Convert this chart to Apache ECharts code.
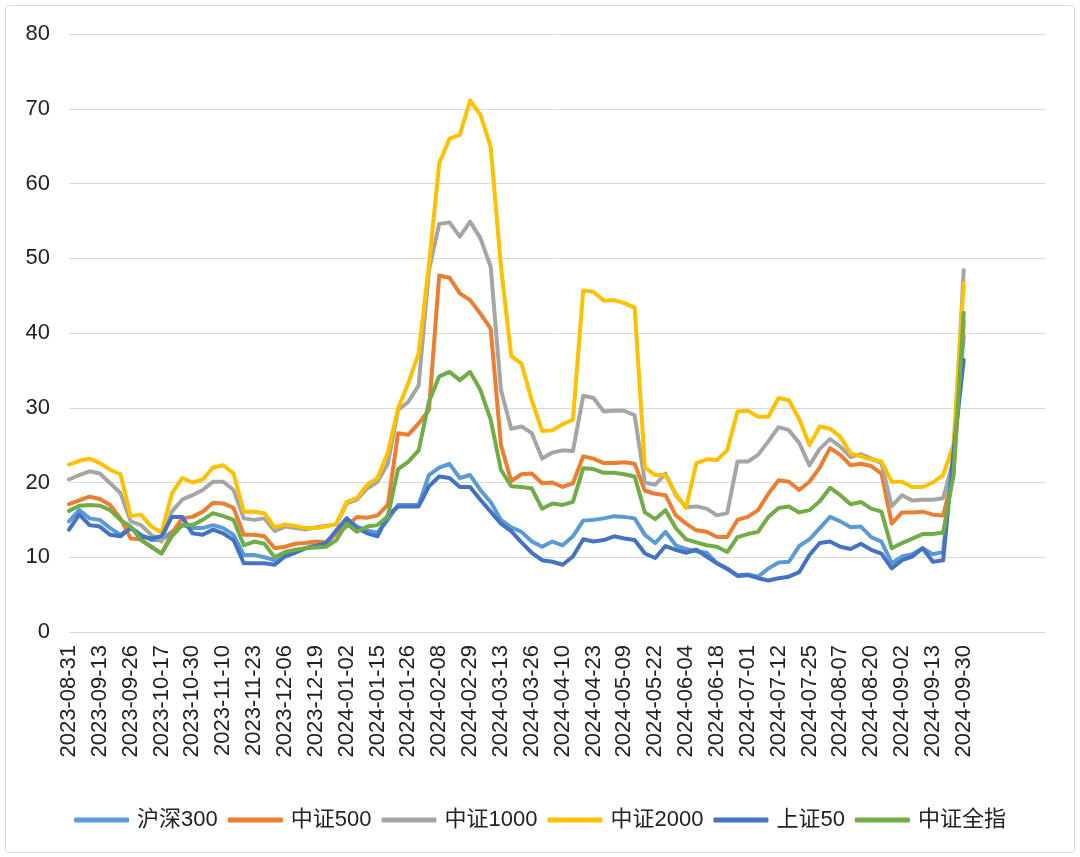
<!DOCTYPE html>
<html>
<head>
<meta charset="utf-8">
<script src="https://cdn.jsdelivr.net/npm/echarts@6/dist/echarts.min.js"></script>
<style>
  html, body { margin: 0; padding: 0; background: #fff; }
  #chart { width: 1080px; height: 857px; }
  #frame { position: absolute; left: 5px; top: 5px; width: 1068px; height: 846px;
           border: 1px solid #d9d9d9; border-radius: 4px; pointer-events: none; }
</style>
</head>
<body>
<div id="chart"></div>
<div id="frame"></div>
<script>
// trading calendar (SSE), sampled every 3rd trading day
const firstDay = '2023-08-31'
const lastDay = '2024-09-30'
const holidays = [
  '2023-09-29', '2023-10-02', '2023-10-03', '2023-10-04', '2023-10-05', '2023-10-06',
  '2024-01-01', '2024-02-09', '2024-02-12', '2024-02-13', '2024-02-14', '2024-02-15', '2024-02-16',
  '2024-04-04', '2024-04-05', '2024-05-01', '2024-05-02', '2024-05-03', '2024-06-10',
  '2024-09-16', '2024-09-17'
]
const step = 3
const padCount = 8 // empty rows after the last date

const hs300 = [
  14.8, 16.3, 15.2, 15.0, 13.9, 13.0, 14.0, 13.0, 12.3, 12.3, 13.4, 14.3, 13.9, 13.9, 14.3, 13.9, 13.0, 10.3, 10.3, 10.0,
  9.6, 10.3, 10.7, 11.2, 11.6, 11.9, 13.2, 15.2, 14.1, 13.6, 13.3, 15.0, 17.0, 17.0, 17.0, 21.0, 22.0, 22.5, 20.6, 21.0,
  19.0, 17.4, 15.0, 14.0, 13.4, 12.1, 11.4, 12.1, 11.6, 12.8, 14.9, 15.0, 15.2, 15.5, 15.4, 15.2, 13.0, 11.9, 13.4, 11.6,
  11.1, 10.8, 10.6, 9.2, 8.4, 7.6, 7.7, 7.4, 8.5, 9.3, 9.4, 11.5, 12.4, 13.9, 15.4, 14.8, 14.0, 14.1, 12.7, 12.1,
  9.2, 10.1, 10.4, 11.2, 10.4, 10.7, 24.0, 39.6
]
const zz500 = [
  17.1, 17.6, 18.1, 17.8, 17.0, 15.2, 12.5, 12.4, 11.4, 10.5, 13.2, 15.2, 15.4, 16.1, 17.3, 17.2, 16.6, 13.0, 13.0, 12.8,
  11.2, 11.4, 11.8, 11.9, 12.1, 12.0, 13.2, 14.1, 15.4, 15.3, 15.6, 17.0, 26.6, 26.4, 27.9, 29.7, 47.7, 47.4, 45.3, 44.4,
  42.6, 40.6, 25.0, 20.2, 21.1, 21.2, 19.9, 20.0, 19.4, 19.9, 23.5, 23.2, 22.6, 22.6, 22.7, 22.5, 18.9, 18.5, 18.3, 15.6,
  14.5, 13.6, 13.4, 12.7, 12.7, 15.0, 15.4, 16.3, 18.5, 20.3, 20.1, 19.0, 20.1, 22.0, 24.6, 23.7, 22.3, 22.5, 22.2, 21.2,
  14.5, 16.0, 16.0, 16.1, 15.7, 15.6, 21.0, 41.5
]
const zz1000 = [
  20.4, 21.0, 21.5, 21.2, 19.9, 18.6, 14.8, 14.3, 13.0, 12.1, 16.1, 17.7, 18.3, 19.0, 20.1, 20.1, 19.0, 15.2, 15.0, 15.2,
  13.5, 14.1, 13.9, 13.7, 14.0, 14.2, 14.4, 17.2, 17.7, 19.2, 20.1, 22.5, 29.7, 30.8, 33.0, 48.4, 54.6, 54.8, 52.9, 54.9,
  52.7, 48.9, 32.4, 27.2, 27.5, 26.6, 23.2, 24.0, 24.3, 24.2, 31.6, 31.3, 29.5, 29.6, 29.6, 29.0, 20.0, 19.7, 21.2, 18.3,
  16.7, 16.8, 16.5, 15.6, 15.9, 22.8, 22.8, 23.7, 25.5, 27.4, 27.0, 25.3, 22.3, 24.5, 25.8, 24.8, 23.4, 23.8, 23.2, 22.6,
  16.8, 18.3, 17.6, 17.7, 17.7, 17.9, 23.0, 48.4
]
const zz2000 = [
  22.4, 22.9, 23.2, 22.6, 21.7, 21.1, 15.5, 15.7, 14.1, 13.3, 18.5, 20.6, 20.0, 20.4, 22.0, 22.3, 21.2, 16.1, 16.1, 15.9,
  14.0, 14.4, 14.2, 13.9, 13.9, 14.1, 14.5, 17.4, 17.9, 19.7, 20.6, 24.0, 29.9, 33.3, 37.3, 49.1, 62.7, 66.0, 66.5, 71.1,
  69.2, 64.9, 48.9, 36.9, 35.9, 31.0, 26.9, 27.0, 27.8, 28.4, 45.7, 45.5, 44.3, 44.4, 44.0, 43.4, 22.0, 21.0, 21.0, 18.5,
  16.6, 22.6, 23.1, 23.0, 24.3, 29.5, 29.6, 28.8, 28.8, 31.3, 31.0, 28.5, 25.0, 27.5, 27.2, 26.1, 23.9, 23.5, 23.1, 22.8,
  20.1, 20.1, 19.4, 19.4, 20.0, 21.0, 25.0, 46.7
]
const sz50 = [
  13.7, 15.7, 14.3, 14.1, 13.0, 12.8, 13.9, 12.8, 12.5, 12.8, 15.4, 15.4, 13.2, 13.0, 13.7, 13.2, 12.3, 9.2, 9.2, 9.2,
  9.0, 10.1, 10.6, 11.2, 11.5, 11.9, 13.6, 15.2, 13.9, 13.2, 12.8, 15.6, 16.8, 16.8, 16.8, 19.5, 20.8, 20.6, 19.4, 19.4,
  17.7, 16.1, 14.5, 13.5, 12.0, 10.6, 9.6, 9.4, 9.0, 10.1, 12.4, 12.1, 12.3, 12.8, 12.5, 12.3, 10.5, 9.9, 11.5, 11.0,
  10.6, 11.0, 10.1, 9.2, 8.5, 7.5, 7.6, 7.2, 6.9, 7.2, 7.4, 8.0, 10.3, 11.9, 12.1, 11.4, 11.1, 11.8, 11.0, 10.5,
  8.5, 9.6, 10.1, 11.2, 9.4, 9.6, 24.0, 36.4
]
const zzqz = [
  16.2, 16.9, 17.0, 16.9, 16.3, 15.0, 14.1, 12.3, 11.4, 10.5, 12.8, 14.3, 14.3, 15.0, 15.9, 15.5, 15.0, 11.6, 12.1, 11.8,
  10.0, 10.7, 11.0, 11.2, 11.3, 11.4, 12.3, 14.5, 13.4, 14.1, 14.3, 15.5, 21.8, 22.8, 24.3, 30.8, 34.2, 34.8, 33.7, 34.8,
  32.4, 28.4, 21.7, 19.5, 19.4, 19.2, 16.5, 17.2, 17.0, 17.4, 21.9, 21.8, 21.3, 21.3, 21.1, 20.8, 16.0, 15.1, 16.3, 13.9,
  12.4, 12.0, 11.6, 11.4, 10.7, 12.7, 13.1, 13.4, 15.4, 16.6, 16.8, 16.0, 16.3, 17.5, 19.3, 18.3, 17.1, 17.4, 16.5, 16.1,
  11.2, 11.9, 12.5, 13.1, 13.1, 13.3, 21.0, 42.7
]

const seriesNames = ['沪深300', '中证500', '中证1000', '中证2000', '上证50', '中证全指']
const seriesColors = ['#5B9BD5', '#ED7D31', '#A5A5A5', '#FFC000', '#4472C4', '#70AD47']
const seriesData = [hs300, zz500, zz1000, zz2000, sz50, zzqz]

function tradingDays(from, to) {
  const out = []
  const d = new Date(from + 'T00:00:00Z')
  const end = new Date(to + 'T00:00:00Z')
  while (d <= end) {
    const s = d.toISOString().slice(0, 10)
    const wd = d.getUTCDay()
    if (wd !== 0 && wd !== 6 && holidays.indexOf(s) < 0) out.push(s)
    d.setUTCDate(d.getUTCDate() + 1)
  }
  return out
}

const days = tradingDays(firstDay, lastDay)
const categories = days.filter((_, i) => i % step === 0)
const dataCount = categories.length
for (let k = 0; k < padCount; k++) categories.push('pad' + k)

const font = '"Liberation Sans", Arial, "Noto Sans CJK SC", sans-serif'

const chart = echarts.init(document.getElementById('chart'))
chart.setOption({
  animation: false,
  textStyle: { fontFamily: font },
  grid: { left: 69, right: 34, top: 34, bottom: 225 },
  legend: {
    data: seriesNames,
    top: 804,
    left: 'center',
    itemWidth: 55,
    itemHeight: 5,
    itemGap: 10,
    icon: 'roundRect',
    textStyle: { fontSize: 22, color: '#222', fontFamily: font, padding: [0, 0, 0, 3] }
  },
  xAxis: {
    type: 'category',
    data: categories,
    boundaryGap: false,
    axisLine: { show: false },
    axisTick: { show: false },
    axisLabel: {
      rotate: 90,
      margin: 13,
      fontSize: 22,
      color: '#222',
      interval: (idx) => idx % 3 === 0 && idx < dataCount
    },
    splitLine: { show: false }
  },
  yAxis: {
    type: 'value',
    min: 0,
    max: 80,
    interval: 10,
    axisLine: { show: false },
    axisTick: { show: false },
    axisLabel: { fontSize: 22, color: '#222', margin: 19 },
    splitLine: { lineStyle: { color: '#d9d9d9', width: 1 } }
  },
  series: seriesNames.map((name, k) => ({
    name: name,
    type: 'line',
    data: seriesData[k],
    symbol: 'none',
    color: seriesColors[k],
    lineStyle: { width: 4, color: seriesColors[k], cap: 'round', join: 'round' }
  }))
})
</script>
</body>
</html>
